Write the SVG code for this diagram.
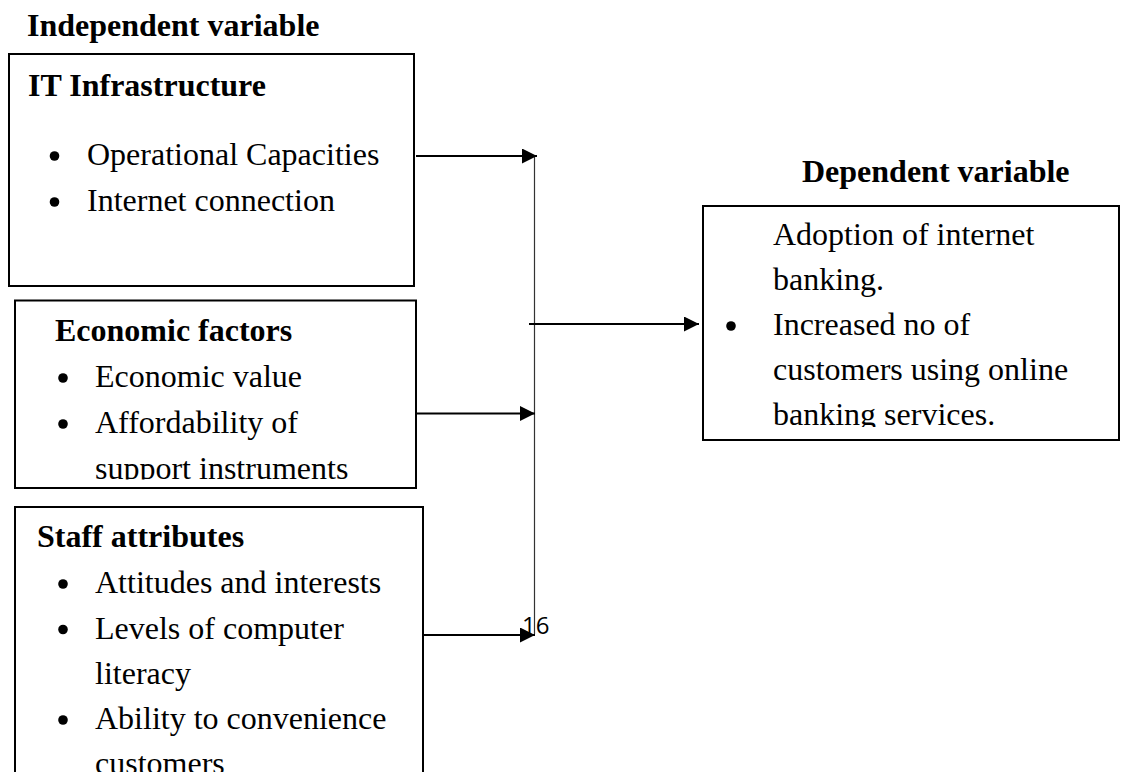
<svg xmlns="http://www.w3.org/2000/svg" width="1124" height="772" viewBox="0 0 1124 772">
<style>
.t{font-family:"Liberation Serif","Times New Roman",serif;font-size:32px;fill:#000}
.b{font-weight:bold}
.box{fill:none;stroke:#000;stroke-width:2}
.con{stroke:#000;stroke-width:2;fill:none}
.thin{stroke:#333;stroke-width:1.2;fill:none}
.num{font-family:"Open Sans","Liberation Sans",sans-serif;font-size:24px;fill:#000}
</style>
<defs>
<marker id="ah" markerWidth="15" markerHeight="15" viewBox="0 0 15 15" refX="15" refY="7.5" orient="auto" markerUnits="userSpaceOnUse">
<path d="M0,0 L15,7.5 L0,15 Z" fill="#000"/>
</marker>
<clipPath id="cEcon"><rect x="15" y="300" width="401" height="179.5"/></clipPath>
<clipPath id="cDep"><rect x="703" y="206" width="416" height="221"/></clipPath>
</defs>
<rect width="1124" height="772" fill="#fff"/>
<text class="t b" x="27" y="36">Independent variable</text>
<text class="t b" x="802" y="182">Dependent variable</text>
<g id="it">
<rect class="box" x="9" y="54" width="405" height="232"/>
<text class="t b" x="28" y="96">IT Infrastructure</text>
<circle cx="54.5" cy="156" r="4.8"/>
<text class="t" x="87" y="165">Operational Capacities</text>
<circle cx="54.5" cy="202" r="4.8"/>
<text class="t" x="87" y="211">Internet connection</text>
</g>
<g id="econ">
<rect class="box" x="15" y="300.5" width="401" height="187.5"/>
<g clip-path="url(#cEcon)">
<text class="t b" x="55" y="341">Economic factors</text>
<circle cx="63" cy="378" r="4.8"/>
<text class="t" x="95" y="387">Economic value</text>
<circle cx="63" cy="424" r="4.8"/>
<text class="t" x="95" y="433">Affordability of</text>
<text class="t" x="95" y="479">support instruments</text>
</g>
</g>
<g id="staff">
<rect class="box" x="15" y="507" width="408" height="280"/>
<text class="t b" x="37" y="547">Staff attributes</text>
<circle cx="63" cy="584" r="4.8"/>
<text class="t" x="95" y="593">Attitudes and interests</text>
<circle cx="63" cy="629.5" r="4.8"/>
<text class="t" x="95" y="638.5">Levels of computer</text>
<text class="t" x="95" y="684">literacy</text>
<circle cx="63" cy="720" r="4.8"/>
<text class="t" x="95" y="729">Ability to convenience</text>
<text class="t" x="95" y="774">customers</text>
</g>
<g id="dep">
<rect class="box" x="703" y="206" width="416" height="234"/>
<g clip-path="url(#cDep)">
<text class="t" x="773" y="245">Adoption of internet</text>
<text class="t" x="773" y="290">banking.</text>
<circle cx="731" cy="326" r="4.8"/>
<text class="t" x="773" y="335">Increased no of</text>
<text class="t" x="773" y="380">customers using online</text>
<text class="t" x="773" y="424.5">banking services.</text>
</g>
</g>
<g id="connectors">
<line class="thin" x1="534.5" y1="156" x2="534.5" y2="634"/>
<line class="con" x1="416" y1="156" x2="537" y2="156" marker-end="url(#ah)"/>
<line class="con" x1="417" y1="413.5" x2="535" y2="413.5" marker-end="url(#ah)"/>
<line class="con" x1="424" y1="635" x2="535" y2="635" marker-end="url(#ah)"/>
<line class="con" x1="529" y1="324" x2="699" y2="324" marker-end="url(#ah)"/>
</g>
<text class="num" x="522" y="634">16</text>
</svg>
